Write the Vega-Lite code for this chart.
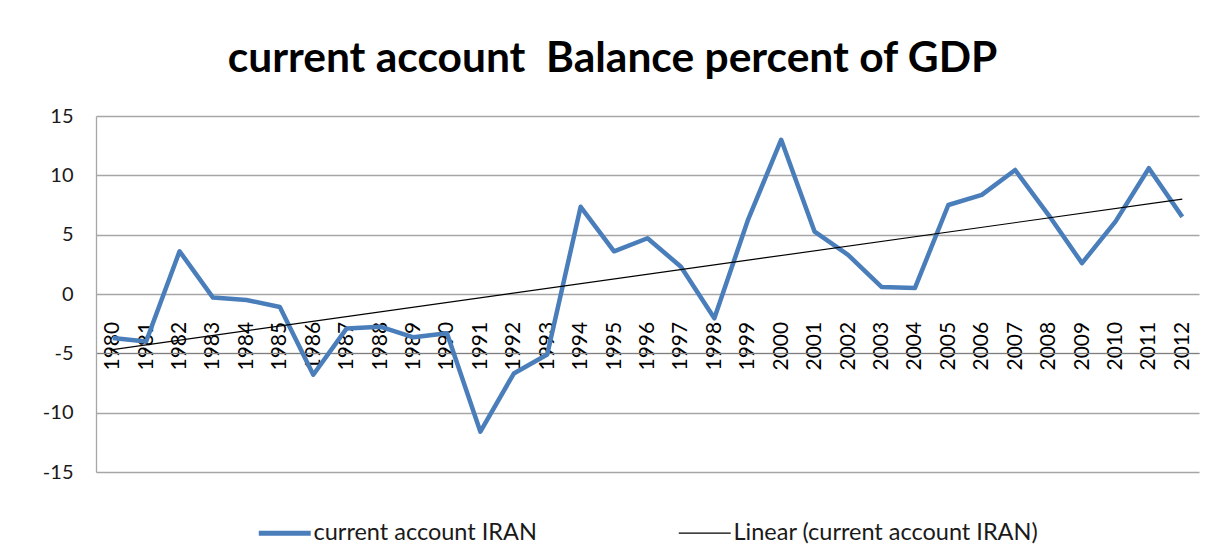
{
  "$schema": "https://vega.github.io/schema/vega-lite/v6.json",
  "width": 1103,
  "height": 356,
  "autosize": {"type": "none"},
  "padding": {"left": 96, "top": 116, "right": 19, "bottom": 88},
  "background": "white",
  "config": {
    "view": {"stroke": null},
    "font": "Lato"
  },
  "title": {
    "text": "current account\u00a0 Balance percent of GDP",
    "font": "Lato",
    "fontSize": 42.5,
    "fontWeight": "bold",
    "color": "#000000",
    "anchor": "middle",
    "dx": -35,
    "dy": 44,
    "baseline": "alphabetic",
    "offset": 36
  },
  "data": {
    "values": [
      {"year": 1980, "value": -3.7},
      {"year": 1981, "value": -4.0},
      {"year": 1982, "value": 3.6},
      {"year": 1983, "value": -0.3},
      {"year": 1984, "value": -0.5},
      {"year": 1985, "value": -1.1},
      {"year": 1986, "value": -6.8},
      {"year": 1987, "value": -2.9},
      {"year": 1988, "value": -2.75},
      {"year": 1989, "value": -3.65},
      {"year": 1990, "value": -3.3},
      {"year": 1991, "value": -11.6},
      {"year": 1992, "value": -6.7},
      {"year": 1993, "value": -5.1},
      {"year": 1994, "value": 7.35},
      {"year": 1995, "value": 3.6},
      {"year": 1996, "value": 4.7},
      {"year": 1997, "value": 2.3},
      {"year": 1998, "value": -2.05},
      {"year": 1999, "value": 6.2},
      {"year": 2000, "value": 13.0},
      {"year": 2001, "value": 5.25},
      {"year": 2002, "value": 3.3},
      {"year": 2003, "value": 0.6},
      {"year": 2004, "value": 0.5},
      {"year": 2005, "value": 7.5},
      {"year": 2006, "value": 8.35},
      {"year": 2007, "value": 10.45},
      {"year": 2008, "value": 6.65},
      {"year": 2009, "value": 2.6},
      {"year": 2010, "value": 6.1},
      {"year": 2011, "value": 10.6},
      {"year": 2012, "value": 6.5}
    ]
  },
  "encoding": {
    "x": {
      "field": "year",
      "type": "quantitative",
      "scale": {"domain": [1979.5, 2012.5], "nice": false, "zero": false},
      "axis": {
        "title": null,
        "values": [1980,1981,1982,1983,1984,1985,1986,1987,1988,1989,1990,1991,1992,1993,1994,1995,1996,1997,1998,1999,2000,2001,2002,2003,2004,2005,2006,2007,2008,2009,2010,2011,2012],
        "tickCount": 60,
        "labelExpr": "'' + datum.value",
        "grid": false,
        "ticks": false,
        "domain": true,
        "domainColor": "#7f7f7f",
        "domainWidth": 1.2,
        "offset": -119,
        "labelAngle": -90,
        "labelAlign": "left",
        "labelBaseline": "middle",
        "labelPadding": 17,
        "labelFont": "Lato",
        "labelFontSize": 21,
        "labelColor": "#000000",
        "labelOverlap": false,
        "labelFlush": false,
        "labelBound": false
      }
    },
    "y": {
      "field": "value",
      "type": "quantitative",
      "scale": {"domain": [-15, 15], "nice": false},
      "axis": {
        "title": null,
        "values": [-15, -10, -5, 0, 5, 10, 15],
        "tickCount": 20,
        "labelExpr": "'' + datum.value",
        "grid": true,
        "gridColor": "#a6a6a6",
        "gridWidth": 1.3,
        "ticks": false,
        "domain": true,
        "domainColor": "#a6a6a6",
        "domainWidth": 1.3,
        "labelPadding": 23,
        "labelFont": "Lato",
        "labelFontSize": 20,
        "labelColor": "#1a1a1a"
      }
    }
  },
  "layer": [
    {
      "mark": {"type": "line", "strokeWidth": 4.5, "strokeJoin": "round"},
      "encoding": {
        "color": {
          "datum": "current account IRAN",
          "type": "nominal",
          "scale": {
            "domain": ["current account IRAN", "Linear (current account IRAN)"],
            "range": ["#4A7EBB", "#000000"]
          },
          "legend": {
            "title": null,
            "orient": "none",
            "legendX": 177,
            "legendY": 405,
            "direction": "horizontal",
            "columns": 2,
            "columnPadding": 139,
            "symbolType": "stroke",
            "symbolSize": 2700,
            "symbolStrokeWidth": 4.5,
            "labelFont": "Lato",
            "labelFontSize": 23.5,
            "labelLimit": 500,
            "labelColor": "#1a1a1a",
            "labelOffset": 17,
            "encode": {
              "symbols": {
                "update": {
                  "strokeWidth": {"signal": "datum.value === 'current account IRAN' ? 5 : 1.3"}
                }
              }
            }
          }
        }
      }
    },
    {
      "transform": [{"regression": "value", "on": "year"}],
      "mark": {"type": "line", "strokeWidth": 1.2},
      "encoding": {
        "color": {"datum": "Linear (current account IRAN)", "type": "nominal"}
      }
    }
  ]
}
